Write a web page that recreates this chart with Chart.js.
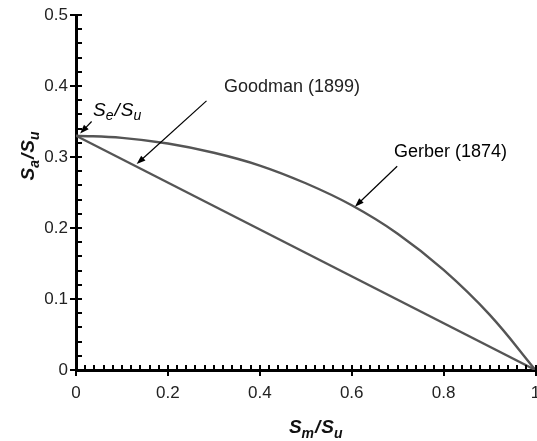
<!DOCTYPE html>
<html>
<head>
<meta charset="utf-8">
<script src="https://cdn.jsdelivr.net/npm/chart.js@4/dist/chart.umd.min.js"></script>
<style>
  html, body { margin: 0; padding: 0; background: #fff; }
  #wrap { width: 537px; height: 441px; }
</style>
</head>
<body>
<div id="wrap"><canvas id="chart" width="537" height="441"></canvas></div>
<script>
// --- data ---
const seOverSu = 0.33;
const gerberSm = [0, 0.1, 0.2, 0.3, 0.4, 0.5, 0.6, 0.7, 0.8, 0.9, 1.0];
const gerberSa = [0.330, 0.327, 0.319, 0.306, 0.288, 0.263, 0.232, 0.192, 0.141, 0.078, 0];
const goodmanSm = [0, 1];
const goodmanSa = [seOverSu, 0];

const xMajorStep = 0.2, xMinorStep = 0.02;
const yMajorStep = 0.1, yMinorStep = 0.02;

// text labels with arrows, in data units
const notes = [
  { text: 'Goodman (1899)', x: 0.322, y: 0.399, from: [0.284, 0.379], to: [0.132, 0.290] },
  { text: 'Gerber (1874)',  x: 0.692, y: 0.307, from: [0.699, 0.287], to: [0.607, 0.230] }
];
const seNote = { x: 0.037, y: 0.365, from: [0.034, 0.350], to: [0.009, 0.333] };

const FONT = '"Liberation Sans", Arial, Helvetica, sans-serif';
const CURVE = '#555555';

const toPoints = (xs, ys) => xs.map((x, i) => ({ x, y: ys[i] }));
const isMultiple = (v, step) => Math.abs(v / step - Math.round(v / step)) < 1e-6;
const fmt = v => String(Math.round(v * 10) / 10);

// draws "S_a/S_u" style text with subscripts
function drawFraction(ctx, x, y, sub1, sub2, size, weight, align) {
  const big = `italic ${weight} ${size}px ${FONT}`;
  const small = `italic ${weight} ${Math.round(size * 0.72)}px ${FONT}`;
  const parts = [['S', big, 0], [sub1, small, size * 0.3], ['/', big, 0], ['S', big, 0], [sub2, small, size * 0.3]];
  let total = 0;
  parts.forEach(p => { ctx.font = p[1]; total += ctx.measureText(p[0]).width + (p[0] === '/' ? 2 : 0); });
  let cx = align === 'center' ? x - total / 2 : x;
  ctx.textAlign = 'left';
  ctx.textBaseline = 'middle';
  parts.forEach(p => {
    ctx.font = p[1];
    ctx.fillText(p[0], cx + (p[0] === '/' ? 1 : 0), y + p[2]);
    cx += ctx.measureText(p[0]).width + (p[0] === '/' ? 2 : 0);
  });
}

function arrow(ctx, x1, y1, x2, y2) {
  const ang = Math.atan2(y2 - y1, x2 - x1);
  const len = 9, half = 3.2;
  ctx.strokeStyle = '#000';
  ctx.fillStyle = '#000';
  ctx.lineWidth = 1.2;
  ctx.beginPath();
  ctx.moveTo(x1, y1);
  ctx.lineTo(x2 - Math.cos(ang) * len * 0.8, y2 - Math.sin(ang) * len * 0.8);
  ctx.stroke();
  ctx.beginPath();
  ctx.moveTo(x2, y2);
  ctx.lineTo(x2 - Math.cos(ang) * len + Math.sin(ang) * half, y2 - Math.sin(ang) * len - Math.cos(ang) * half);
  ctx.lineTo(x2 - Math.cos(ang) * len - Math.sin(ang) * half, y2 - Math.sin(ang) * len + Math.cos(ang) * half);
  ctx.closePath();
  ctx.fill();
}

// tick marks, axis titles and annotations
const decorPlugin = {
  id: 'decor',
  afterDraw(chart) {
    const { ctx, chartArea, scales: { x, y } } = chart;
    ctx.save();
    ctx.strokeStyle = '#000';
    ctx.lineWidth = 2;
    ctx.beginPath();
    x.ticks.forEach(t => {
      const px = Math.round(x.getPixelForValue(t.value));
      const major = isMultiple(t.value, xMajorStep);
      ctx.moveTo(px, chartArea.bottom - 5);
      ctx.lineTo(px, chartArea.bottom + (major ? 6 : 0));
    });
    y.ticks.forEach(t => {
      const py = Math.round(y.getPixelForValue(t.value));
      const major = isMultiple(t.value, yMajorStep);
      ctx.moveTo(chartArea.left - (major ? 6 : 0), py);
      ctx.lineTo(chartArea.left + 6, py);
    });
    ctx.stroke();

    // axis titles
    ctx.fillStyle = '#111';
    drawFraction(ctx, (chartArea.left + chartArea.right) / 2 + 10, 428, 'm', 'u', 19, 'bold', 'center');
    ctx.save();
    ctx.translate(29, 156);
    ctx.rotate(-Math.PI / 2);
    drawFraction(ctx, 0, 0, 'a', 'u', 19, 'bold', 'center');
    ctx.restore();

    // annotations
    ctx.fillStyle = '#222';
    ctx.font = `18px ${FONT}`;
    ctx.textAlign = 'left';
    ctx.textBaseline = 'middle';
    notes.forEach(n => {
      ctx.fillText(n.text, x.getPixelForValue(n.x), y.getPixelForValue(n.y));
      arrow(ctx, x.getPixelForValue(n.from[0]), y.getPixelForValue(n.from[1]),
                 x.getPixelForValue(n.to[0]), y.getPixelForValue(n.to[1]));
    });
    drawFraction(ctx, x.getPixelForValue(seNote.x), y.getPixelForValue(seNote.y), 'e', 'u', 19, 'normal', 'left');
    arrow(ctx, x.getPixelForValue(seNote.from[0]), y.getPixelForValue(seNote.from[1]),
               x.getPixelForValue(seNote.to[0]), y.getPixelForValue(seNote.to[1]));
    ctx.restore();
  }
};

const tickFont = { family: FONT, size: 17 };

new Chart(document.getElementById('chart'), {
  type: 'line',
  data: {
    datasets: [
      {
        label: 'Gerber (1874)',
        data: toPoints(gerberSm, gerberSa),
        borderColor: CURVE,
        borderWidth: 2.4,
        pointRadius: 0,
        tension: 0.4,
        fill: false
      },
      {
        label: 'Goodman (1899)',
        data: toPoints(goodmanSm, goodmanSa),
        borderColor: CURVE,
        borderWidth: 2.4,
        pointRadius: 0,
        tension: 0,
        fill: false
      }
    ]
  },
  options: {
    responsive: false,
    animation: false,
    events: [],
    layout: { padding: { top: 15, right: 1.5, bottom: 0, left: 0 } },
    plugins: { legend: { display: false }, tooltip: { enabled: false } },
    scales: {
      x: {
        type: 'linear',
        min: 0,
        max: 1,
        border: { display: true, color: '#000', width: 3 },
        grid: { drawOnChartArea: false, drawTicks: false, color: 'rgba(0,0,0,0)' },
        ticks: {
          stepSize: xMinorStep,
          autoSkip: false,
          maxRotation: 0,
          padding: 13,
          color: '#222',
          font: tickFont,
          callback: v => isMultiple(v, xMajorStep) ? fmt(v) : ''
        },
        afterFit(scale) {
          scale.height = 71;
          scale.paddingLeft = 0;
          scale.paddingRight = 0;
        }
      },
      y: {
        type: 'linear',
        min: 0,
        max: 0.5,
        border: { display: true, color: '#000', width: 3 },
        grid: { drawOnChartArea: false, drawTicks: false, color: 'rgba(0,0,0,0)' },
        ticks: {
          stepSize: yMinorStep,
          autoSkip: false,
          padding: 8,
          color: '#222',
          font: tickFont,
          callback: v => isMultiple(v, yMajorStep) ? fmt(v) : ''
        },
        afterFit(scale) {
          scale.width = 76;
          scale.paddingTop = 0;
          scale.paddingBottom = 0;
        }
      }
    }
  },
  plugins: [decorPlugin]
});
</script>
</body>
</html>
